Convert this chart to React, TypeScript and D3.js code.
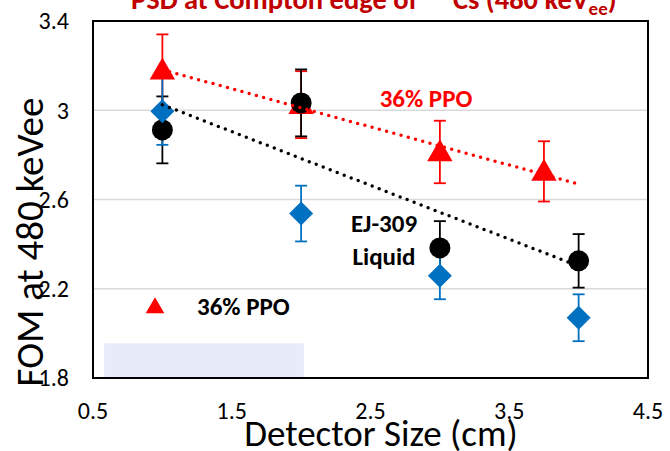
import React from "react";
import * as d3 from "d3";

// ---- data ----
const xTicks = [0.5, 1.5, 2.5, 3.5, 4.5];
const yTicks = [1.8, 2.2, 2.6, 3.0, 3.4];
const yTickLabels = ["1.8", "2.2", "2.6", "3", "3.4"];

const ppoX = [1, 2, 3, 3.75];
const ppoY = [3.18, 3.025, 2.813, 2.726];
const ppoErr = [0.16, 0.15, 0.14, 0.135];

const ejX = [1, 2, 3, 4];
const ejY = [2.912, 3.033, 2.383, 2.325];
const ejErr = [0.15, 0.15, 0.12, 0.12];

const blueX = [1, 2, 3, 4];
const blueY = [2.995, 2.537, 2.258, 2.07];
const blueErr = [0.15, 0.125, 0.105, 0.105];

const trendRange = [1, 4];
const shadeX = [0.58, 2.02];
const shadeY = [1.8, 1.955];

const W = 670;
const H = 451;
const M = { left: 93, right: 22, top: 21, bottom: 73 };
const FONT = "Carlito, Lato, 'Open Sans', sans-serif";

function fit(xs: number[], ys: number[]) {
  const mx = d3.mean(xs)!;
  const my = d3.mean(ys)!;
  let sxy = 0, sxx = 0;
  xs.forEach((x, i) => {
    sxy += (x - mx) * (ys[i] - my);
    sxx += (x - mx) * (x - mx);
  });
  const b = sxy / sxx;
  return (x: number) => my + b * (x - mx);
}

export default function App() {
  const x = d3.scaleLinear().domain([0.5, 4.5]).range([M.left, W - M.right]);
  const y = d3.scaleLinear().domain([1.8, 3.4]).range([H - M.bottom, M.top]);

  const red = "#FF0000";
  const blue = "#0070C0";
  const cap = 6;

  const errBars = (xs: number[], ys: number[], es: number[], color: string, key: string) =>
    xs.map((xv, i) => (
      <g key={key + i} stroke={color} strokeWidth={1.8}>
        <line x1={x(xv)} x2={x(xv)} y1={y(ys[i] + es[i])} y2={y(ys[i] - es[i])} />
        <line x1={x(xv) - cap} x2={x(xv) + cap} y1={y(ys[i] + es[i])} y2={y(ys[i] + es[i])} />
        <line x1={x(xv) - cap} x2={x(xv) + cap} y1={y(ys[i] - es[i])} y2={y(ys[i] - es[i])} />
      </g>
    ));

  const tri = d3.symbol().type(d3.symbolTriangle).size(280)();
  const triSmall = d3.symbol().type(d3.symbolTriangle).size(150)();
  const diamond = "M0,-12L12,0L0,12L-12,0Z";

  const ppoFit = fit(ppoX, ppoY);
  const ejFit = fit(ejX, ejY);

  const plotW = W - M.left - M.right;
  const plotH = H - M.top - M.bottom;

  return (
    <svg
      width={W}
      height={H}
      style={{ position: "absolute", left: 0, top: 0, background: "#fff" }}
      fontFamily={FONT}
    >
      <rect x={0} y={0} width={W} height={H} fill="#fff" />
      {/* title (clipped at top) */}
      <text x={131} y={9} fill="#C00000" fontWeight="bold" fontSize={28.5}>
        PSD at Compton edge of <tspan dy={-14} fontSize={19}>137</tspan>
        <tspan dy={14}>Cs (480 keV</tspan>
        <tspan dy={6} fontSize={19}>ee</tspan>
        <tspan dy={-6}>)</tspan>
      </text>

      {/* shaded rectangle */}
      <rect
        x={x(shadeX[0])}
        y={y(shadeY[1])}
        width={x(shadeX[1]) - x(shadeX[0])}
        height={y(shadeY[0]) - y(shadeY[1])}
        fill="#E7EBFA"
      />

      {/* gridlines */}
      {yTicks.slice(1, -1).map((t) => (
        <line key={t} x1={M.left} x2={W - M.right} y1={y(t)} y2={y(t)} stroke="#D9D9D9" strokeWidth={1.5} />
      ))}

      {/* border */}
      <rect x={M.left} y={M.top} width={plotW} height={plotH} fill="none" stroke="#000" strokeWidth={2} />

      {/* y tick labels */}
      {yTicks.map((t, i) => (
        <text key={t} x={69} y={y(t)} dy="0.35em" textAnchor="end" fontSize={24} fill="#000">
          {yTickLabels[i]}
        </text>
      ))}
      {/* x tick labels */}
      {xTicks.map((t) => (
        <text key={t} x={x(t)} y={419} textAnchor="middle" fontSize={24} fill="#000">
          {t.toFixed(1)}
        </text>
      ))}

      {/* axis titles */}
      <text x={381} y={446} textAnchor="middle" fontSize={37} fill="#000">
        Detector Size (cm)
      </text>
      <text
        transform={`translate(43,${242}) rotate(-90)`}
        textAnchor="middle"
        fontSize={39}
        fill="#000"
      >
        FOM at 480 keVee
      </text>

      {/* error bars */}
      {errBars(ppoX, ppoY, ppoErr, red, "pe")}
      {errBars(ejX, ejY, ejErr, "#000", "ee")}
      {errBars(blueX, blueY, blueErr, blue, "be")}

      {/* markers */}
      {ppoX.map((xv, i) => (
        <path key={"pm" + i} d={tri} transform={`translate(${x(xv)},${y(ppoY[i]) + 2})`} fill={red} />
      ))}
      {ejX.map((xv, i) => (
        <circle key={"em" + i} cx={x(xv)} cy={y(ejY[i])} r={10.5} fill="#000" />
      ))}
      {blueX.map((xv, i) => (
        <path key={"bm" + i} d={diamond} transform={`translate(${x(xv)},${y(blueY[i])})`} fill={blue} />
      ))}

      {/* trendlines */}
      <line
        x1={x(trendRange[0])}
        y1={y(ppoFit(trendRange[0]))}
        x2={x(trendRange[1])}
        y2={y(ppoFit(trendRange[1]))}
        stroke={red}
        strokeWidth={3.5}
        strokeDasharray="0 7.5"
        strokeLinecap="round"
      />
      <line
        x1={x(trendRange[0])}
        y1={y(ejFit(trendRange[0]))}
        x2={x(trendRange[1])}
        y2={y(ejFit(trendRange[1]))}
        stroke="#000"
        strokeWidth={3.5}
        strokeDasharray="0 7.5"
        strokeLinecap="round"
      />

      {/* annotations */}
      <text x={426} y={107} textAnchor="middle" fontSize={25} fontWeight="bold" fill={red}>
        36% PPO
      </text>
      <text x={384} y={232} textAnchor="middle" fontSize={25} fontWeight="bold" fill="#000">
        EJ-309
      </text>
      <text x={384} y={265} textAnchor="middle" fontSize={25} fontWeight="bold" fill="#000">
        Liquid
      </text>

      {/* legend */}
      <path d={triSmall} transform={`translate(155,308)`} fill={red} />
      <text x={197} y={315} fontSize={25} fontWeight="bold" fill="#000">
        36% PPO
      </text>
    </svg>
  );
}
